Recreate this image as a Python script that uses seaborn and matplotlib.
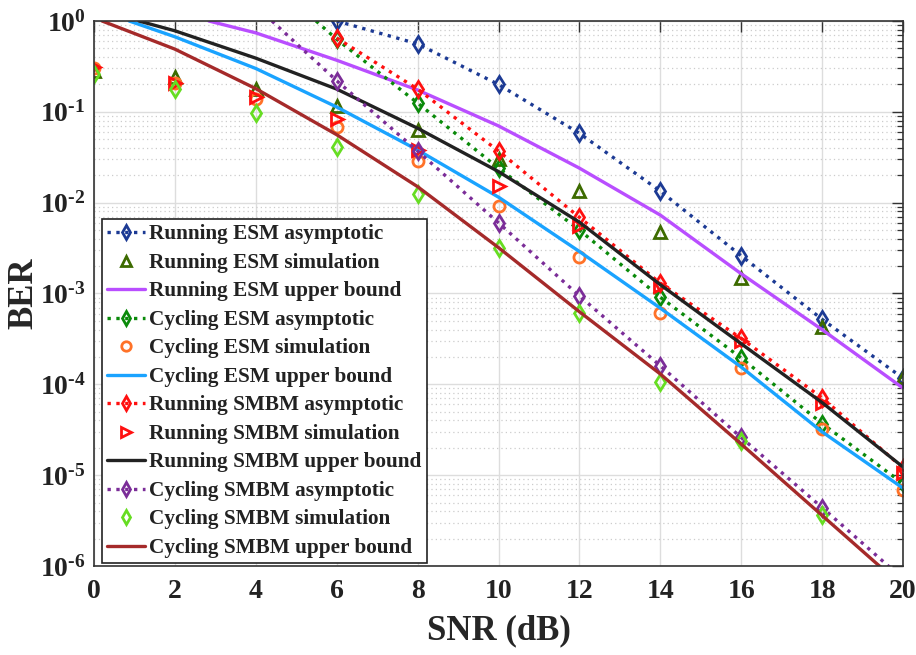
import numpy as np
import pandas as pd
import matplotlib
matplotlib.use("Agg")
import matplotlib.pyplot as plt
from matplotlib.ticker import LogLocator, NullFormatter, FixedLocator
import seaborn as sns

# ---------------- data ----------------
snr = [0, 2, 4, 6, 8, 10, 12, 14, 16, 18, 20]

run_esm_asym_x = [6, 8, 10, 12, 14, 16, 18, 20]
run_esm_asym_y = [1.0, 0.56, 0.20, 0.058, 0.0134, 0.0026, 5.2e-4, 1.17e-4]

run_esm_sim_y = [0.28, 0.24, 0.178, 0.116, 0.063, 0.030, 0.0134, 4.8e-3, 1.5e-3, 4.3e-4, 1.2e-4]

run_esm_ub_x = [2.84, 4, 6, 8, 10, 12, 14, 16, 18, 20]
run_esm_ub_y = [1.0, 0.74, 0.37, 0.174, 0.07, 0.024, 0.0073, 1.65e-3, 4.0e-4, 9.1e-5]

cyc_esm_asym_x = [5.49, 6, 8, 10, 12, 14, 16, 18, 20]
cyc_esm_asym_y = [1.0, 0.63, 0.125, 0.024, 5.0e-3, 9.1e-4, 1.95e-4, 3.7e-5, 8.1e-6]

cyc_esm_sim_y = [0.30, 0.21, 0.138, 0.068, 0.029, 0.0092, 2.5e-3, 6.1e-4, 1.5e-4, 3.2e-5, 6.8e-6]

cyc_esm_ub_x = [0.87, 2, 4, 6, 8, 10, 12, 14, 16, 18, 20]
cyc_esm_ub_y = [1.0, 0.67, 0.30, 0.113, 0.038, 0.0115, 2.9e-3, 6.9e-4, 1.55e-4, 3.0e-5, 7.2e-6]

run_smbm_asym_x = [6, 8, 10, 12, 14, 16, 18, 20]
run_smbm_asym_y = [0.65, 0.178, 0.037, 0.0069, 1.3e-3, 3.2e-4, 7.1e-5, 1.2e-5]

run_smbm_sim_y = [0.31, 0.21, 0.146, 0.083, 0.038, 0.0152, 5.6e-3, 1.2e-3, 3.0e-4, 6.2e-5, 1.05e-5]

run_smbm_ub_x = [1.11, 2, 4, 6, 8, 10, 12, 14, 16, 18, 20]
run_smbm_ub_y = [1.0, 0.78, 0.39, 0.178, 0.066, 0.022, 6.1e-3, 1.25e-3, 2.8e-4, 6.3e-5, 1.23e-5]

cyc_smbm_asym_x = [4.4, 6, 8, 10, 12, 14, 16, 18, 20]
cyc_smbm_asym_y = [1.0, 0.22, 0.037, 6.0e-3, 9.4e-4, 1.6e-4, 2.6e-5, 4.4e-6, 7.2e-7]

cyc_smbm_sim_x = [0, 2, 4, 6, 8, 10, 12, 14, 16, 18]
cyc_smbm_sim_y = [0.26, 0.178, 0.097, 0.041, 0.0126, 3.2e-3, 6.1e-4, 1.05e-4, 2.4e-5, 3.6e-6]

cyc_smbm_ub_x = [0.2, 2, 4, 6, 8, 10, 12, 14, 16, 18, 20]
cyc_smbm_ub_y = [1.0, 0.49, 0.18, 0.056, 0.015, 3.2e-3, 6.3e-4, 1.3e-4, 2.2e-5, 3.6e-6, 5.9e-7]

labels = [
    "Running ESM asymptotic", "Running ESM simulation", "Running ESM upper bound",
    "Cycling ESM asymptotic", "Cycling ESM simulation", "Cycling ESM upper bound",
    "Running SMBM asymptotic", "Running SMBM simulation", "Running SMBM upper bound",
    "Cycling SMBM asymptotic", "Cycling SMBM simulation", "Cycling SMBM upper bound",
]
yticks = [1e-6, 1e-5, 1e-4, 1e-3, 1e-2, 1e-1, 1e0]
ytick_exps = ["-6", "-5", "-4", "-3", "-2", "-1", "0"]
xticks = snr

# ---------------- style ----------------
sns.set_style("white")
plt.rcParams["font.family"] = ["Liberation Serif", "DejaVu Serif"]
plt.rcParams["font.weight"] = "bold"
plt.rcParams["mathtext.fontset"] = "custom"
plt.rcParams["mathtext.rm"] = "Liberation Serif:bold"
plt.rcParams["mathtext.it"] = "Liberation Serif:bold:italic"
plt.rcParams["mathtext.bf"] = "Liberation Serif:bold"
plt.rcParams["text.color"] = "#222222"

fig = plt.figure(figsize=(9.16, 6.55), dpi=100)
ax = fig.add_axes([94 / 916, 1 - 566 / 655, (903 - 94) / 916, (566 - 21) / 655])

series = [
    # x, y, color, linestyle, marker, ms, markevery
    (run_esm_asym_x, run_esm_asym_y, "#1c3a94", ":", "d", 8.5, None),
    (snr, run_esm_sim_y, "#3d6b00", "none", "^", 9, None),
    (run_esm_ub_x, run_esm_ub_y, "#b94eff", "-", None, 0, None),
    (cyc_esm_asym_x, cyc_esm_asym_y, "#0a8a0a", ":", "d", 8.5, list(range(1, len(cyc_esm_asym_x)))),
    (snr, cyc_esm_sim_y, "#ff7228", "none", "o", 8, None),
    (cyc_esm_ub_x, cyc_esm_ub_y, "#1aa3ff", "-", None, 0, None),
    (run_smbm_asym_x, run_smbm_asym_y, "#ff1010", ":", "d", 8.5, None),
    (snr, run_smbm_sim_y, "#ff1010", "none", ">", 9, None),
    (run_smbm_ub_x, run_smbm_ub_y, "#222222", "-", None, 0, None),
    (cyc_smbm_asym_x, cyc_smbm_asym_y, "#7b2d98", ":", "d", 8.5, list(range(1, len(cyc_smbm_asym_x)))),
    (cyc_smbm_sim_x, cyc_smbm_sim_y, "#66dd22", "none", "d", 8.5, None),
    (cyc_smbm_ub_x, cyc_smbm_ub_y, "#a52a2a", "-", None, 0, None),
]

for (x, y, c, ls, mk, ms, me), lab in zip(series, labels):
    df = pd.DataFrame({"x": x, "y": y})
    kw = dict(color=c, linestyle=ls, linewidth=2.4, label=lab, ax=ax,
              estimator=None, sort=False, clip_on=True)
    if mk is not None:
        kw.update(marker=mk, markersize=ms, markerfacecolor="none",
                  markeredgewidth=2.0, markeredgecolor=c)
        if me is not None:
            kw["markevery"] = me
    sns.lineplot(data=df, x="x", y="y", **kw)

ax.set_yscale("log")
ax.set_xlim(0, 20)
ax.set_ylim(1e-6, 1)

ax.xaxis.set_major_locator(FixedLocator(xticks))
ax.set_xticks(xticks)
ax.set_xticklabels([str(v) for v in xticks], fontsize=20, fontweight="bold")
ax.set_yticks(yticks)
ax.set_yticklabels([r"$10^{\text{%s}}$" % e for e in ytick_exps], fontsize=20)
ax.yaxis.set_minor_locator(LogLocator(base=10, subs=np.arange(2, 10), numticks=20))
ax.yaxis.set_minor_formatter(NullFormatter())

ax.grid(True, which="major", color="#dddddd", linewidth=1.0, linestyle="-")
ax.grid(True, which="minor", axis="y", color="#cccccc", linewidth=0.9, linestyle=(0, (1, 2.5)))
ax.set_axisbelow(True)

ax.tick_params(axis="x", which="major", pad=9)
ax.tick_params(axis="y", which="major", pad=6)
ax.tick_params(which="major", direction="in", length=8, width=1.0, top=True, right=True,
               colors="#333333", labelcolor="#222222")
ax.tick_params(which="minor", direction="in", length=4, width=0.9, top=False, right=True,
               colors="#333333")
for s in ax.spines.values():
    s.set_color("#333333")
    s.set_linewidth(1.2)

ax.set_xlabel("SNR (dB)", fontsize=25, fontweight="bold", labelpad=6)
ax.set_ylabel("BER", fontsize=25, fontweight="bold")
ax.yaxis.set_label_coords(-(94 - 24) / 809, 0.5)
ax.xaxis.set_label_coords(0.5, -(631 - 566) / 545)
ax.xaxis.label.set_va("center")
ax.yaxis.label.set_va("center")

leg = ax.legend(loc="lower left", bbox_to_anchor=(0.01, 0.005), borderaxespad=0,
                fontsize=15.3, frameon=True, fancybox=False, framealpha=1,
                edgecolor="#222222", handlelength=1.75, handletextpad=0.2,
                labelspacing=0.4, borderpad=0.25, markerscale=0.85)
leg.get_frame().set_linewidth(1.2)
for t in leg.get_texts():
    t.set_fontweight("bold")

fig.savefig("out.png", dpi=100)
